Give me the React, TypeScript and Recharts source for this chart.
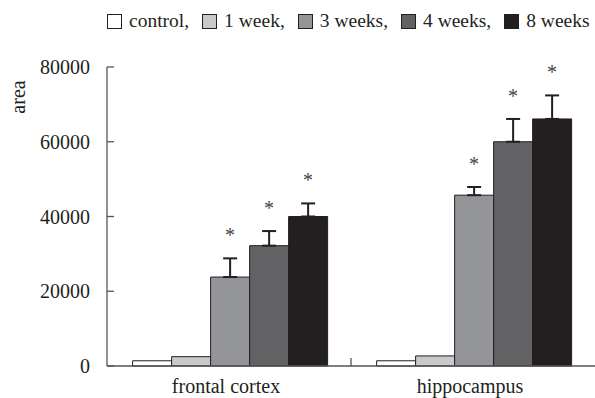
import React from 'react';
import { BarChart, Bar, XAxis, YAxis, ErrorBar, LabelList, Legend } from 'recharts';

const regions = ['frontal cortex', 'hippocampus'];
const groups = ['control', '1 week', '3 weeks', '4 weeks', '8 weeks'];
const control = [1400, 1400];
const week1 = [2500, 2700];
const week3 = [23800, 45700];
const week4 = [32200, 60000];
const week8 = [40000, 66100];
const week3Err = [5000, 2200];
const week4Err = [3900, 6100];
const week8Err = [3500, 6300];
const yTicks = [0, 20000, 40000, 60000, 80000];

const colors = ['#ffffff', '#c8c9cb', '#939598', '#626264', '#231f20'];
const outline = '#231f20';
const axisColor = '#555555';
const font = 'Liberation Serif, DejaVu Serif, serif';

const data = regions.map((region, i) => ({
  region,
  control: control[i],
  w1: week1[i],
  w3: week3[i],
  w4: week4[i],
  w8: week8[i],
  e3: [0, week3Err[i]],
  e4: [0, week4Err[i]],
  e8: [0, week8Err[i]],
}));

const makeStar = (errs: number[]) => (props: any) => {
  const { x, y, width, height, value, index } = props;
  if (!value || height == null) return null;
  const errPx = (errs[index] * height) / value;
  return (
    <text x={x + width / 2} y={y - errPx - 16} textAnchor="middle" style={{ fontFamily: font, fontSize: 20, fill: '#444444' }}>
      *
    </text>
  );
};

const YTick = ({ x, y, payload }: any) => (
  <g>
    <line x1={x} x2={x + 7} y1={y} y2={y} stroke={axisColor} strokeWidth={1.3} />
    <text x={x - 17} y={y} dy="0.35em" textAnchor="end" style={{ fontFamily: font, fontSize: 20, fill: '#231f20' }}>
      {payload.value}
    </text>
  </g>
);

// category label plus the short upward divider tick between the two groups
const XTick = ({ x, y, payload, index, width, visibleTicksCount }: any) => {
  const band = width / (visibleTicksCount || 2);
  return (
    <g>
      {index < (visibleTicksCount || 2) - 1 && (
        <line x1={x + band / 2} x2={x + band / 2} y1={y} y2={y - 8} stroke={axisColor} strokeWidth={1.3} />
      )}
      <text x={x - 3} y={y + 27} textAnchor="middle" style={{ fontFamily: font, fontSize: 20, fill: '#231f20' }}>
        {payload.value}
      </text>
    </g>
  );
};

const LegendContent = () => (
  <div style={{ display: 'flex', alignItems: 'center', whiteSpace: 'nowrap', fontFamily: font, fontSize: 19.5, color: '#231f20', paddingLeft: 107, paddingTop: 4, lineHeight: '22px' }}>
    {groups.map((g, i) => (
      <span key={g} style={{ display: 'flex', alignItems: 'center', marginRight: 13 }}>
        <span style={{ display: 'inline-block', width: 13, height: 13, background: colors[i], border: `1px solid ${outline}`, marginRight: 7 }} />
        {g}{i < groups.length - 1 ? ',' : ''}
      </span>
    ))}
  </div>
);

const AreaLabel = ({ viewBox }: any) => (
  <text
    x={18}
    y={viewBox.y + 30}
    transform={`rotate(-90, 18, ${viewBox.y + 30})`}
    textAnchor="middle"
    dy="0.35em"
    style={{ fontFamily: font, fontSize: 20, fill: '#231f20' }}
  >
    area
  </text>
);

export default function App() {
  return (
    <div style={{ position: 'absolute', left: 0, top: 0, width: 595, height: 398, overflow: 'hidden', background: '#fff' }}>
      <BarChart
        width={595}
        height={398}
        data={data}
        margin={{ top: 37, right: 0, left: 0, bottom: 2 }}
        barCategoryGap="10.5%"
        barGap={0}
      >
        <Legend verticalAlign="top" align="left" height={30} wrapperStyle={{ top: 6, left: 0, width: 595 }} content={<LegendContent />} />
        <XAxis
          dataKey="region"
          axisLine={{ stroke: axisColor, strokeWidth: 1.3 }}
          tickLine={false}
          tickSize={0}
          tickMargin={0}
          tick={<XTick />}
        />
        <YAxis
          width={107}
          domain={[0, 80000]}
          ticks={yTicks}
          axisLine={{ stroke: axisColor, strokeWidth: 1.3 }}
          tickLine={false}
          tickSize={0}
          tickMargin={0}
          tick={<YTick />}
          label={<AreaLabel />}
        />
        <Bar dataKey="control" fill={colors[0]} stroke={outline} strokeWidth={1} isAnimationActive={false} />
        <Bar dataKey="w1" fill={colors[1]} stroke={outline} strokeWidth={1} isAnimationActive={false} />
        <Bar dataKey="w3" fill={colors[2]} stroke={outline} strokeWidth={1} isAnimationActive={false}>
          <ErrorBar dataKey="e3" width={7} stroke={outline} strokeWidth={2} />
          <LabelList dataKey="w3" content={makeStar(week3Err)} />
        </Bar>
        <Bar dataKey="w4" fill={colors[3]} stroke={outline} strokeWidth={1} isAnimationActive={false}>
          <ErrorBar dataKey="e4" width={7} stroke={outline} strokeWidth={2} />
          <LabelList dataKey="w4" content={makeStar(week4Err)} />
        </Bar>
        <Bar dataKey="w8" fill={colors[4]} stroke={outline} strokeWidth={1} isAnimationActive={false}>
          <ErrorBar dataKey="e8" width={7} stroke={outline} strokeWidth={2} />
          <LabelList dataKey="w8" content={makeStar(week8Err)} />
        </Bar>
      </BarChart>
    </div>
  );
}
